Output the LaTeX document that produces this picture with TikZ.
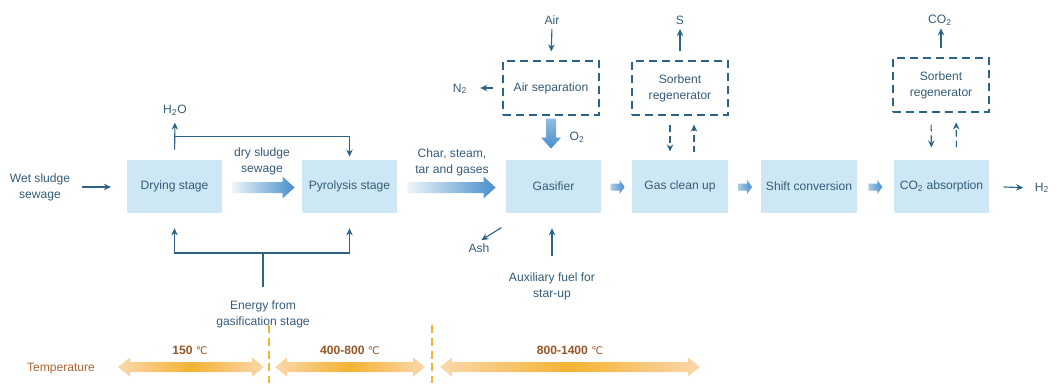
\documentclass[tikz,border=0pt]{standalone}
\usepackage{fontspec}
\setmainfont{Liberation Sans}
\newfontfamily\degfont{DejaVu Sans}
\usepackage{xcolor}
\usepackage{tikz}
\usetikzlibrary{arrows.meta, calc}

\definecolor{boxblue}{RGB}{205,232,244}
\definecolor{ln}{RGB}{44,100,135}
\definecolor{txt}{RGB}{52,92,122}
\definecolor{fatl}{RGB}{236,245,251}
\definecolor{fatr}{RGB}{72,142,202}
\definecolor{orl}{RGB}{249,216,172}
\definecolor{orm}{RGB}{245,178,52}
\definecolor{tempbrown}{RGB}{172,102,52}
\definecolor{degbrown}{RGB}{150,86,40}

% start, length, shaft half width, head half width, head length, shading
\newcommand{\fatarrow}[6]{%
  \shade[#6] (#1) ++(0,-#3) -- ++({#2-#5},0) -- ++(0,{#3-#4}) -- ++(#5,#4)
    -- ++(-#5,#4) -- ++(0,{#3-#4}) -- ++({#5-#2},0) -- cycle;}
% start, length
\newcommand{\temparrow}[2]{%
  \shade[left color=orl, right color=orl, middle color=orm]
    (#1) -- ++(12,-9.5) -- ++(0,4.5) -- ++({#2-24},0) -- ++(0,-4.5) -- ++(12,9.5)
    -- ++(-12,9.5) -- ++(0,-4.5) -- ++({24-#2},0) -- ++(0,4.5) -- cycle;}

\begin{document}
\begin{tikzpicture}[x=0.025cm,y=-0.025cm,>={Stealth[length=5pt,width=4.6pt]},line width=0.8pt,
    every node/.style={text=txt,font=\fontsize{8.6}{11.4}\selectfont}]
    \tikzset{stage/.style={fill=boxblue, minimum width=2.375cm, minimum height=1.325cm},
             sorb/.style={draw=ln, dash pattern=on 0.2cm off 0.125cm, align=center,
                          minimum width=2.4cm, minimum height=1.35cm},
             lbl/.style={align=center, inner sep=1pt},
             flow/.style={->, draw=ln},
             back/.style={->, draw=ln, dash pattern=on 0.17cm off 0.1cm}}

    \useasboundingbox (0,0) rectangle (1058,383);

    \node[stage] (Dry) at (174.5,186.5) {Drying stage};
    \node[stage] (Pyr) at (349.5,186.5) {Pyrolysis stage};
    \node[stage] (Gas) at (553.5,186.5) {Gasifier};
    \node[stage] (Cln) at (680,186.5) {Gas clean up};
    \node[stage] (Shf) at (809,186.5) {Shift conversion};
    \node[stage] (Abs) at (941.5,186.5) {CO\textsubscript{2} absorption};

    \node[sorb] (Asep) at (551,88) {Air separation};
    \node[sorb] (Reg1) at (680,88) {Sorbent\\regenerator};
    \node[sorb] (Reg2) at (941,85) {Sorbent\\regenerator};

    \node[lbl] (wet) at (40,187) {Wet sludge\\sewage};
    \node[lbl] (h2o) at (175,110) {H\textsubscript{2}O};
    \node[lbl] (dsl) at (262,161) {dry sludge\\sewage};
    \node[lbl] (csg) at (452,162) {Char, steam,\\tar and gases};
    \node[lbl] (energy) at (263,314) {Energy from\\gasification stage};
    \node[lbl] (air) at (552,20) {Air};
    \node[lbl] (n2) at (460,89) {N\textsubscript{2}};
    \node[lbl] (o2) at (577,137) {O\textsubscript{2}};
    \node[lbl] (ash) at (479,248) {Ash};
    \node[lbl] (aux) at (552,286) {Auxiliary fuel for\\star-up};
    \node[lbl] (s) at (680,20) {S};
    \node[lbl] (co2) at (940,20) {CO\textsubscript{2}};
    \node[lbl] (h2) at (1042,188) {H\textsubscript{2}};

    % drying and pyrolysis
    \draw[flow, shorten <=7pt, shorten >=11pt] (wet.east) -- (wet.east -| Dry.west);
    \draw[flow, shorten <=7pt, shorten >=4pt] (Dry.north) -- (h2o.south);
    \coordinate (top) at ($(Dry.north)+(0,-23)$);
    \draw[flow, shorten >=2pt] (top) -| (Pyr.north);
    \coordinate (ej) at (263,253);
    \draw[draw=ln, shorten <=8pt] (energy.north) -- (ej);
    \draw[flow, shorten >=10.5pt] (ej) -| (Dry.south);
    \draw[flow, shorten >=10.5pt] (ej) -| (Pyr.south);

    % main stream
    \fatarrow{$(Dry.east)+(10,1)$}{62}{5.5}{11}{12}{left color=fatl, right color=fatr}
    \fatarrow{$(Pyr.east)+(10,1)$}{88}{5.5}{11}{12}{left color=fatl, right color=fatr}
    \fatarrow{$(Gas.east)+(9,0.5)$}{14}{3.5}{7}{5}{left color=fatl!60!fatr, right color=fatr}
    \fatarrow{$(Cln.east)+(10,0.5)$}{14}{3.5}{7}{5}{left color=fatl!60!fatr, right color=fatr}
    \fatarrow{$(Shf.east)+(11,0.5)$}{14}{3.5}{7}{5}{left color=fatl!60!fatr, right color=fatr}
    \draw[flow, shorten <=10pt, shorten >=7pt] (Abs.east) -- (h2.west);

    % gasifier
    \draw[flow, shorten <=2pt, shorten >=6.4pt] (air.south) -- (Asep.north);
    \draw[flow, shorten <=7pt, shorten >=8pt] (Asep.west) -- (Asep.west -| n2.east);
    \shade[top color=fatl!45!fatr, bottom color=fatr]
      ($(Asep.south)+(-5,3)$) -- ++(10,0) -- ++(0,19) -- ++(5,0) -- ++(-10,11)
      -- ++(-10,-11) -- ++(5,0) -- cycle;
    \coordinate (ashout) at ($(Gas.south west)+(-4,14)$);
    \draw[flow, shorten >=2pt] (ashout) -- (ash.north);
    \draw[flow, shorten <=10pt, shorten >=10.5pt] (aux.north) -- (aux.north |- Gas.south);

    % sorbent loops
    \draw[flow, shorten <=6.4pt, shorten >=2pt] (Reg1.north) -- (s.south);
    \draw[back, shorten <=7pt, shorten >=5.7pt] ([xshift=-0.25cm]Reg1.south) -- ([xshift=-0.25cm]Cln.north);
    \draw[back, shorten <=5pt, shorten >=6.4pt] ([xshift=0.35cm]Cln.north) -- ([xshift=0.35cm]Reg1.south);
    \draw[flow, shorten <=7pt, shorten >=1pt] (Reg2.north) -- (Reg2.north |- co2.south);
    \draw[back, shorten <=8.5pt, shorten >=8.5pt] ([xshift=-0.25cm]Reg2.south) -- ([xshift=-0.25cm]Abs.north);
    \draw[back, shorten <=8.5pt, shorten >=7pt] ([xshift=0.375cm]Abs.north) -- ([xshift=0.375cm]Reg2.south);

    % temperature
    \node[lbl, text=tempbrown] (temp) at (61,369) {Temperature};
    \temparrow{118,367}{146}
    \temparrow{275,367}{150}
    \temparrow{440,367}{260}
    \node[lbl, text=degbrown] (t1) at (190,350) {\bfseries 150 {\degfont\mdseries\fontsize{7.5}{9}\selectfont ℃}};
    \node[lbl, text=degbrown] (t2) at (350,350) {\bfseries 400-800 {\degfont\mdseries\fontsize{7.5}{9}\selectfont ℃}};
    \node[lbl, text=degbrown] (t3) at (570,350) {\bfseries 800-1400 {\degfont\mdseries\fontsize{7.5}{9}\selectfont ℃}};
    \draw[orm, dash pattern=on 0.2cm off 0.12cm] (269,325) -- (269,383);
    \draw[orm, dash pattern=on 0.2cm off 0.12cm] (432,325) -- (432,383);
\end{tikzpicture}
\end{document}
